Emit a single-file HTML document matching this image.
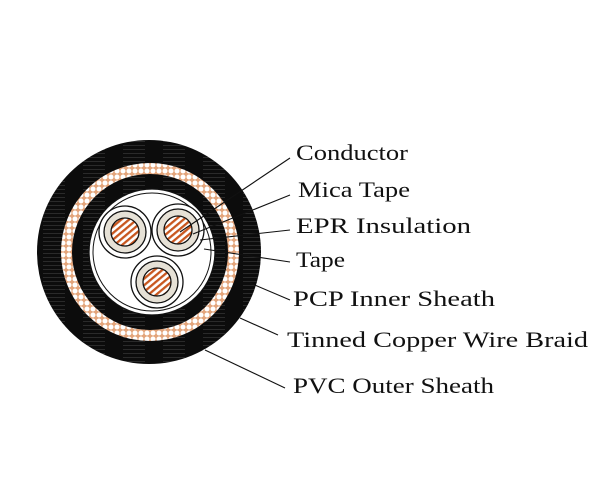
<!DOCTYPE html>
<html><head><meta charset="utf-8"><style>
html,body{margin:0;padding:0;background:#fff;}
svg{display:block;}
text{font-family:"Liberation Serif",serif;font-size:22px;fill:#111;}
</style></head><body>
<svg width="600" height="500" viewBox="0 0 600 500" xmlns="http://www.w3.org/2000/svg">
<defs>
<pattern id="braid" width="6" height="6" patternUnits="userSpaceOnUse">
<rect width="6" height="6" fill="#e3a47a"/>
<circle cx="3" cy="3" r="2.5" fill="#fff"/>
</pattern>
<pattern id="cu" width="5" height="5" patternUnits="userSpaceOnUse" patternTransform="rotate(-40)">
<rect width="5" height="5" fill="#fff"/>
<rect width="5" height="2.3" fill="#c8561e"/>
</pattern>
<pattern id="streak" width="40" height="4" patternUnits="userSpaceOnUse">
<rect width="40" height="4" fill="#0c0c0c"/>
<rect x="3" y="1" width="22" height="1" fill="#2a2a2a"/>
</pattern>
</defs>
<circle cx="149" cy="252" r="112" fill="url(#streak)"/>
<circle cx="150" cy="252" r="89" fill="url(#braid)"/>
<circle cx="150" cy="252" r="78" fill="url(#streak)"/>
<circle cx="152" cy="252" r="63" fill="#fff" stroke="#111" stroke-width="1.3"/>
<circle cx="152" cy="252" r="59" fill="#fff" stroke="#111" stroke-width="1"/>
<g stroke="#111" stroke-width="1.3">
<circle cx="125" cy="232" r="26" fill="#fff"/>
<circle cx="125" cy="232" r="21" fill="#e6e1d6"/>
<circle cx="125" cy="232" r="14" fill="url(#cu)"/>
<circle cx="178" cy="230" r="26" fill="#fff"/>
<circle cx="178" cy="230" r="21" fill="#e6e1d6"/>
<circle cx="178" cy="230" r="14" fill="url(#cu)"/>
<circle cx="157" cy="282" r="26" fill="#fff"/>
<circle cx="157" cy="282" r="21" fill="#e6e1d6"/>
<circle cx="157" cy="282" r="14" fill="url(#cu)"/>
</g>
<g stroke="#111" stroke-width="1.1" fill="none">
<line x1="290" y1="158" x2="180" y2="232"/>
<line x1="290" y1="195" x2="193" y2="234"/>
<line x1="290" y1="230" x2="200" y2="240"/>
<line x1="290" y1="262" x2="204" y2="249"/>
<line x1="290" y1="300" x2="250" y2="283"/>
<line x1="278" y1="335" x2="240" y2="318"/>
<line x1="285" y1="388" x2="205" y2="350"/>
</g>
<text x="296" y="160" textLength="112" lengthAdjust="spacingAndGlyphs">Conductor</text>
<text x="298" y="197" textLength="112" lengthAdjust="spacingAndGlyphs">Mica Tape</text>
<text x="296" y="233" textLength="175" lengthAdjust="spacingAndGlyphs">EPR Insulation</text>
<text x="296" y="267" textLength="49" lengthAdjust="spacingAndGlyphs">Tape</text>
<text x="293" y="306" textLength="202" lengthAdjust="spacingAndGlyphs">PCP Inner Sheath</text>
<text x="287" y="347" textLength="301" lengthAdjust="spacingAndGlyphs">Tinned Copper Wire Braid</text>
<text x="293" y="393" textLength="201" lengthAdjust="spacingAndGlyphs">PVC Outer Sheath</text>
</svg>
</body></html>
